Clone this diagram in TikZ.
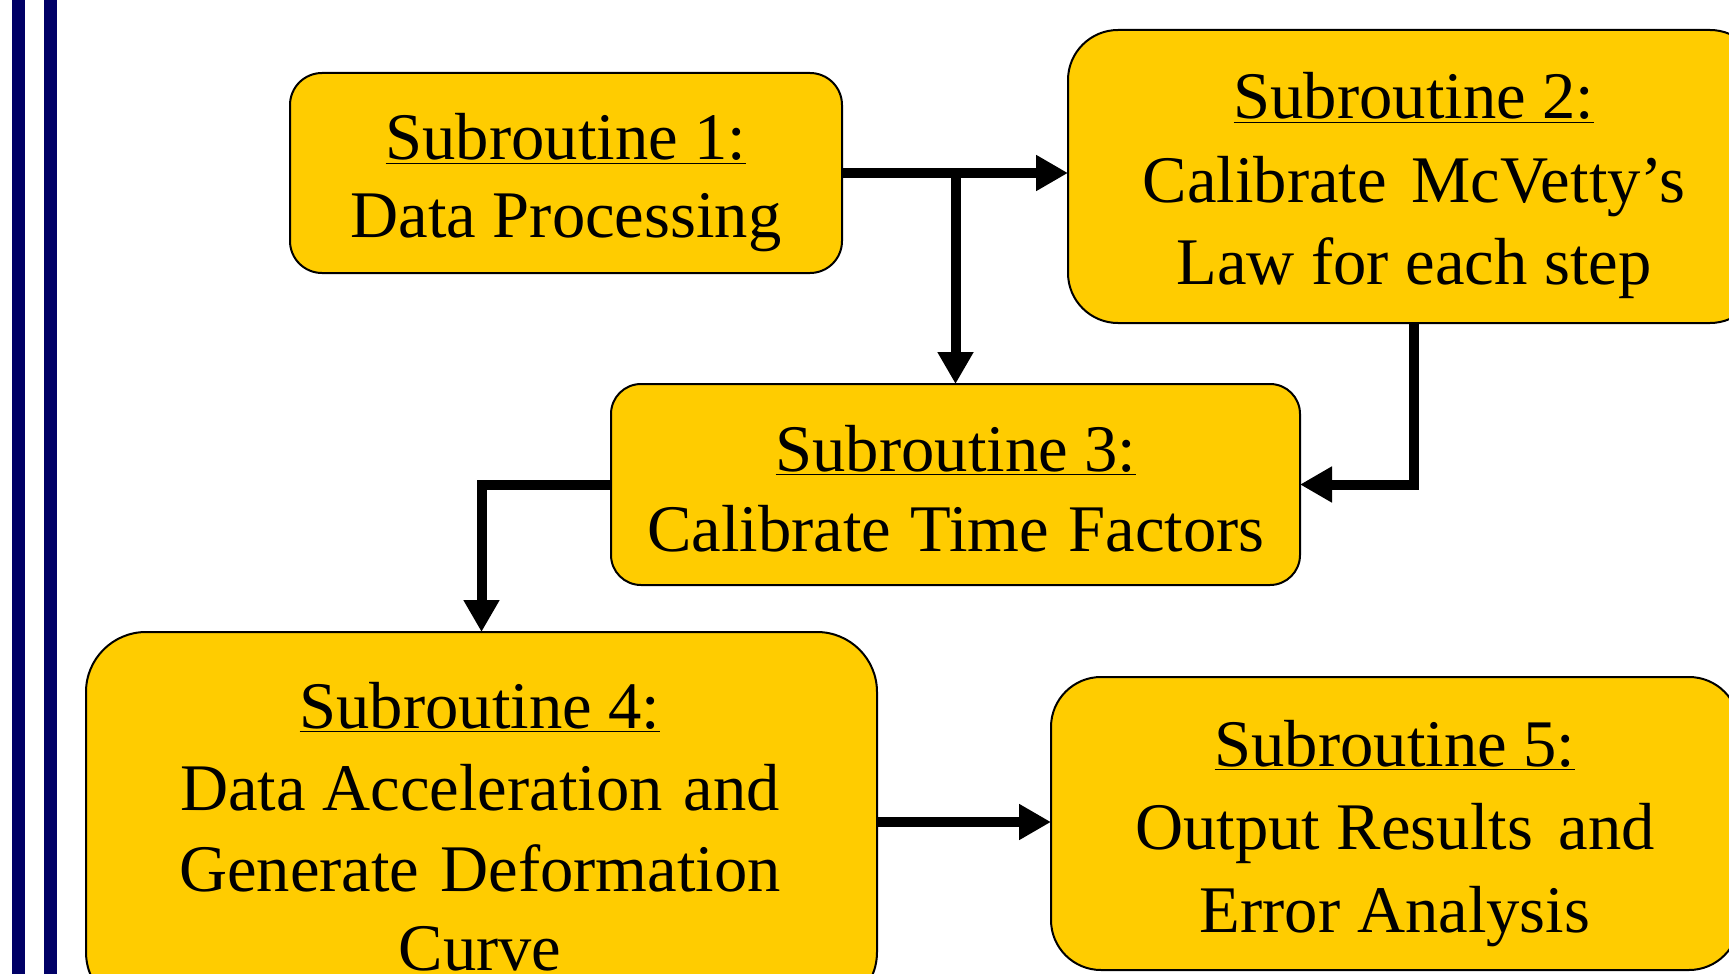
\documentclass[tikz,border=0pt]{standalone}
\usepackage{fontspec}
\setmainfont{Liberation Serif}
\usetikzlibrary{arrows.meta}
\definecolor{boxyellow}{RGB}{255,204,0}
\definecolor{barnavy}{RGB}{0,0,102}
\tikzset{
  sbox/.style={draw=black, line width=1pt, fill=boxyellow, rounded corners=#1, inner sep=0pt, outer sep=0pt},
  txt/.style={anchor=base, inner sep=0pt, font=\fontsize{33.3pt}{40pt}\selectfont},
  conn/.style={line width=5pt, -{Triangle[length=16pt,width=17pt]}},
  bar/.style={fill=barnavy, draw=none}
}
\begin{document}
\begin{tikzpicture}[x=0.5pt,y=-0.5pt]
\useasboundingbox (0,0) rectangle (1729,974);
% left bars
\fill[bar] (12,-5) rectangle (25,980);
\fill[bar] (44,-5) rectangle (57,980);
% boxes
\node[sbox=16pt, minimum width=276pt, minimum height=100pt] (b1) at (566,173) {};
\node[sbox=25pt, minimum width=346pt, minimum height=146.5pt] (b2) at (1414,176.5) {};
\node[sbox=15pt, minimum width=344.5pt, minimum height=100.5pt] (b3) at (955.5,484.5) {};
\node[sbox=30pt, minimum width=395.5pt, minimum height=190pt] (b4) at (481.5,822) {};
\node[sbox=25pt, minimum width=344pt, minimum height=146.5pt] (b5) at (1395,823.5) {};
% texts
\node[txt] (t1a) at (566,160) {\underline{Subroutine 1:}};
\node[txt] (t1b) at (566,237) {Data Processing};
\node[txt] (t2a) at (1414,119) {\underline{Subroutine 2:}};
\node[txt] (t2b) at (1414,202) {Calibrate\ \hspace{3.9pt}McVetty’s};
\node[txt] (t2c) at (1414,284) {Law for each step};
\node[txt] (t3a) at (956,471) {\underline{Subroutine 3:}};
\node[txt] (t3b) at (956,551) {Calibrate\ \hspace{1.5pt}Time\ \hspace{1.5pt}Factors};
\node[txt] (t4a) at (480,728) {\underline{Subroutine 4:}};
\node[txt] (t4b) at (480,810) {Data Acceleration\ \hspace{2.3pt}and};
\node[txt] (t4c) at (480,891) {Generate\ \hspace{2.3pt}Deformation};
\node[txt] (t4d) at (480,970) {Curve};
\node[txt] (t5a) at (1395,766) {\underline{Subroutine 5:}};
\node[txt] (t5b) at (1395,849) {Output Results\ \hspace{4.5pt}and};
\node[txt] (t5c) at (1395,932) {Error Analysis};
% connectors
\draw[conn] (b1.east) -- (b1.east -| b2.west);
\draw[conn] (b3.north |- b1.east) -- (b3.north);
\draw[conn] (b2.south) |- (b3.east);
\draw[conn] (b3.west) -| (b4.north);
\draw[conn] (b4.east) -- (b4.east -| b5.west);
\end{tikzpicture}
\end{document}
